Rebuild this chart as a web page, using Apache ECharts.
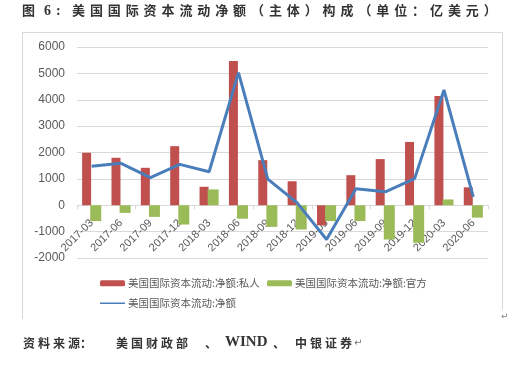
<!DOCTYPE html>
<html><head><meta charset="utf-8">
<script src="https://cdn.jsdelivr.net/npm/echarts@6/dist/echarts.min.js"></script>
<style>html,body{margin:0;padding:0;background:#fff}#c{width:516px;height:371px}</style>
</head><body><div id="c"></div>
<script>
const categories = ['2017-03','2017-06','2017-09','2017-12','2018-03','2018-06','2018-09','2018-12','2019-03','2019-06','2019-09','2019-12','2020-03','2020-06'];
const privateNet = [1990, 1800, 1420, 2240, 700, 5470, 1710, 910, -760, 1140, 1750, 2400, 4140, 680];
const officialNet = [-600, -290, -440, -730, 600, -510, -820, -920, -600, -600, -1300, -1420, 220, -470];
const totalNet = [1480, 1590, 1050, 1550, 1270, 5030, 990, 90, -1300, 630, 510, 1010, 4370, 320];
const yTicks = {min: -2000, max: 6000, interval: 1000};
const names = ['美国国际资本流动:净额:私人', '美国国际资本流动:净额:官方', '美国国际资本流动:净额'];
const titleText = '图 6：美国国际资本流动净额（主体）构成（单位：亿美元）';
const footText = '资料来源：美国财政部、WIND、中银证券';

const cjk = '"Noto Sans CJK SC","Noto Sans",sans-serif';
const grey = '#595959';
const gridC = '#d9d9d9';

const graphics = [];
function addChar(ch, x, y, size, font) {
  graphics.push({type:'text', left:x, top:y, style:{text:ch, fill:'#333', font:'bold '+size+'px '+(font||cjk)}});
}
(function(){
  const y = 4;
  addChar('图', 22, y, 13);
  addChar('6', 44, y, 14, '"Liberation Serif",serif');
  addChar(':', 56, y, 14, '"Liberation Serif",serif');
  const rest = titleText.slice(4);
  for (let i = 0; i < rest.length; i++) addChar(rest[i], 72 + i*17.9, y, 13);
})();
(function(){
  const y = 337;
  const s = footText;
  const xs = [23,38,53,68,80,116,131,146,161,176,205];
  for (let i = 0; i < 11; i++) addChar(s[i], xs[i], y, 12);
  graphics.push({type:'text', left:225, top:y-2, style:{text:'WIND', fill:'#333', font:'bold 15px "Liberation Serif",serif'}});
  const tail = s.slice(15);
  const xs2 = [273,295,310,325,340];
  for (let i = 0; i < tail.length; i++) addChar(tail[i], xs2[i], y, 12);
  graphics.push({type:'text', left:354, top:y+1, style:{text:'↵', fill:'#777', font:'10px "DejaVu Sans",sans-serif'}});
})();
graphics.push({type:'line', shape:{x1:22,y1:32.5,x2:502,y2:32.5}, style:{stroke:gridC, lineWidth:1}});
graphics.push({type:'line', shape:{x1:22.5,y1:32,x2:22.5,y2:319}, style:{stroke:gridC, lineWidth:1}});
graphics.push({type:'line', shape:{x1:502.5,y1:32,x2:502.5,y2:310}, style:{stroke:gridC, lineWidth:1}});
graphics.push({type:'text', left:501, top:312, style:{text:'↵', fill:'#888', font:'9px "DejaVu Sans",sans-serif'}});

const chart = echarts.init(document.getElementById('c'), null, {renderer:'canvas'});
const legendBase = {itemWidth:25, itemHeight:6, itemGap:0, textStyle:{color:grey, fontSize:10.5, fontFamily:cjk, padding:[0,0,0,-2]}, padding:0, selectedMode:false};
const gridTop = 47, gridBottom = 113, chartH = 371;
const gridH = chartH - gridTop - gridBottom;
const zeroOffset = -gridH * (0 - yTicks.min) / (yTicks.max - yTicks.min);
chart.setOption({
  animation:false,
  backgroundColor:'#fff',
  grid:{left:77, right:28, top:gridTop, bottom:gridBottom},
  legend:[
    Object.assign({}, legendBase, {data:[names[0]], left:100, top:278}),
    Object.assign({}, legendBase, {data:[names[1]], left:267, top:278}),
    Object.assign({}, legendBase, {data:[{name:names[2], icon:'rect', itemStyle:{color:'#4a7ebb'}}], left:100, top:298, itemHeight:1.5})
  ],
  xAxis:[{
    type:'category', data:categories,
    axisLine:{onZero:true, lineStyle:{color:gridC}},
    axisTick:{show:true, length:4, lineStyle:{color:gridC}},
    axisLabel:{show:false}
  },{
    type:'category', data:categories, position:'bottom', offset:zeroOffset,
    axisLine:{show:false}, axisTick:{show:false}, splitLine:{show:false},
    axisLabel:{rotate:45, color:grey, fontSize:11, fontFamily:'"Liberation Sans",Arial,sans-serif', margin:16, interval:0}
  }],
  yAxis:{
    type:'value', min:yTicks.min, max:yTicks.max, interval:yTicks.interval,
    axisLine:{show:false}, axisTick:{show:false},
    splitLine:{lineStyle:{color:gridC}},
    axisLabel:{color:grey, fontSize:12, fontFamily:'"Liberation Sans",Arial,sans-serif', margin:12, formatter:function(v){return String(v);}}
  },
  series:[
    {name:names[0], type:'bar', data:privateNet, barWidth:9, barGap:'-10%', itemStyle:{color:'#C0504D'}},
    {name:names[1], type:'bar', data:officialNet, barWidth:11, barGap:'-10%', itemStyle:{color:'#9BBB59'}},
    {name:names[2], type:'line', data:totalNet, symbol:'none', lineStyle:{color:'#4a7ebb', width:3}, itemStyle:{color:'#4a7ebb'}, z:5}
  ],
  graphic:graphics
});
</script></body></html>
